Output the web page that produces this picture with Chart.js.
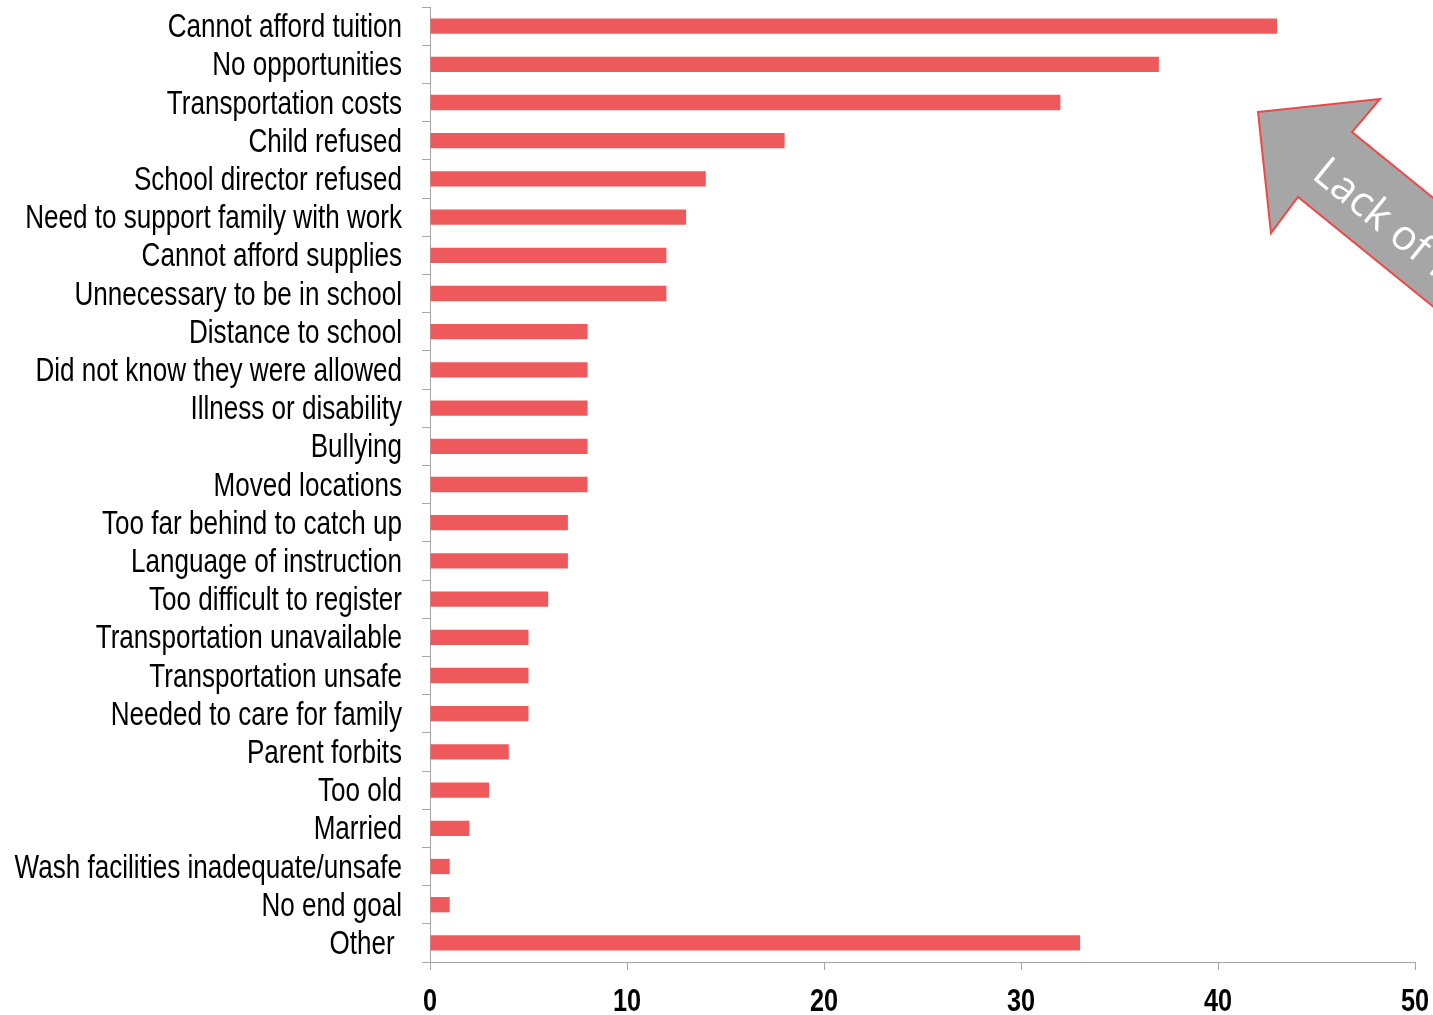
<!DOCTYPE html>
<html>
<head>
<meta charset="utf-8">
<script src="https://cdn.jsdelivr.net/npm/chart.js@4"></script>
<style>
  body { margin: 0; background: #fff; }
  #wrap { width: 1433px; height: 1015px; }
</style>
</head>
<body>
<div id="wrap"><canvas id="grafico"></canvas></div>
<script>
// razões para não frequentar a escola
const motivos = [
    'Cannot afford tuition', 'No opportunities', 'Transportation costs', 'Child refused',
    'School director refused', 'Need to support family with work', 'Cannot afford supplies',
    'Unnecessary to be in school', 'Distance to school', 'Did not know they were allowed',
    'Illness or disability', 'Bullying', 'Moved locations', 'Too far behind to catch up',
    'Language of instruction', 'Too difficult to register', 'Transportation unavailable',
    'Transportation unsafe', 'Needed to care for family', 'Parent forbits', 'Too old',
    'Married', 'Wash facilities inadequate/unsafe', 'No end goal', 'Other '
]
const respostas = [43, 37, 32, 18, 14, 13, 12, 12, 8, 8, 8, 8, 8, 7, 7, 6, 5, 5, 5, 4, 3, 2, 1, 1, 33]

const escalaMin = 0
const escalaMax = 50
const escalaPasso = 10

const textoSeta = 'Lack of funds'

const fonte = "'Liberation Sans', Arial, sans-serif"
const cinza = '#a6a6a6'
// fonte estreita: Liberation Sans comprimida na horizontal
const estreitar = 0.79

// rótulos desenhados à mão para ficarem estreitos
const rotulosPlugin = {
    id: 'rotulos',
    afterDraw(chart){
        const c = chart.ctx
        const y = chart.scales.y
        const x = chart.scales.x

        c.save()
        c.fillStyle = '#000'
        c.textAlign = 'right'
        c.textBaseline = 'middle'
        c.font = '33px ' + fonte
        for(let i = 0; i < motivos.length; i++){
            c.save()
            c.translate(y.right - 28, y.getPixelForTick(i) + 2)
            c.scale(estreitar, 1)
            c.fillText(motivos[i], 0, 0)
            c.restore()
        }

        c.textAlign = 'center'
        c.font = 'bold 32px ' + fonte
        for(const tick of x.ticks){
            c.save()
            c.translate(x.getPixelForValue(tick.value), x.top + 40)
            c.scale(estreitar, 1)
            c.fillText(String(tick.value), 0, 0)
            c.restore()
        }
        c.restore()
    }
}

// seta cinza no canto superior direito
const setaPlugin = {
    id: 'seta',
    afterDraw(chart){
        const c = chart.ctx
        c.save()
        c.beginPath()
        c.moveTo(1258, 112)
        c.lineTo(1380, 99)
        c.lineTo(1352, 132)
        c.lineTo(1585, 321)
        c.lineTo(1531, 386)
        c.lineTo(1298, 197)
        c.lineTo(1271, 233)
        c.closePath()
        c.fillStyle = '#a6a6a6'
        c.fill()
        c.lineWidth = 2
        c.strokeStyle = '#f04848'
        c.stroke()

        c.translate(1318, 168)
        c.rotate(39 * Math.PI / 180)
        c.fillStyle = '#ffffff'
        c.font = "42px 'Open Sans', sans-serif"
        c.textBaseline = 'middle'
        c.fillText(textoSeta, 0, 0)
        c.restore()
    }
}

const ctx = document.getElementById('grafico')

new Chart(ctx, {
    type: 'bar',
    data: {
        labels: motivos,
        datasets: [{
            data: respostas,
            backgroundColor: '#ee5a5c',
            barPercentage: 0.8,
            categoryPercentage: 0.5
        }]
    },
    options: {
        indexAxis: 'y',
        responsive: true,
        maintainAspectRatio: false,
        animation: false,
        layout: { padding: { top: 7, right: 18 } },
        plugins: {
            legend: { display: false },
            tooltip: { enabled: false }
        },
        scales: {
            y: {
                afterFit(scale){ scale.width = 430 },
                grid: {
                    drawOnChartArea: false,
                    drawTicks: true,
                    tickLength: 8,
                    color: cinza,
                    offset: true
                },
                border: { color: cinza, width: 1 },
                ticks: {
                    autoSkip: false,
                    color: 'rgba(0,0,0,0)',
                    font: { size: 1 }
                }
            },
            x: {
                min: escalaMin,
                max: escalaMax,
                afterFit(scale){ scale.height = 53 },
                grid: {
                    drawOnChartArea: false,
                    drawTicks: true,
                    tickLength: 8,
                    color: cinza
                },
                border: { color: cinza, width: 1 },
                ticks: {
                    stepSize: escalaPasso,
                    color: 'rgba(0,0,0,0)',
                    font: { size: 1 }
                }
            }
        }
    },
    plugins: [rotulosPlugin, setaPlugin]
})
</script>
</body>
</html>
